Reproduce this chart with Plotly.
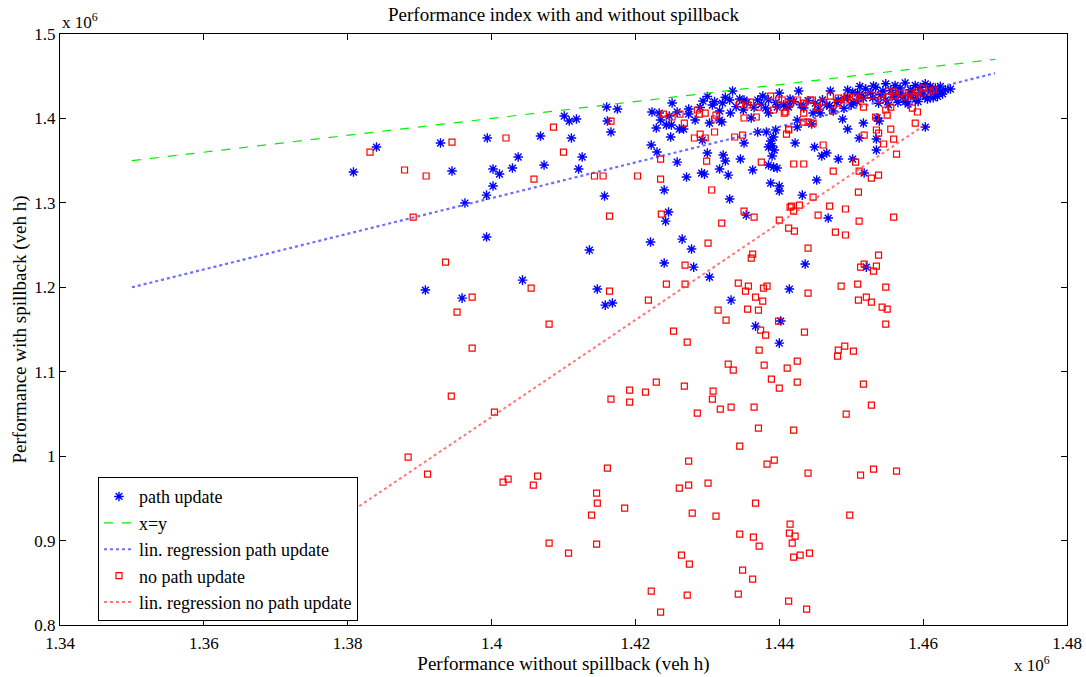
import plotly.graph_objects as go

# ---------------- data (values in units of 10^6 veh h) ----------------
path_x = [
    1.3808, 1.3840, 1.3929, 1.3994, 1.4068, 1.4101, 1.4108, 1.4118, 1.4111, 1.4037,
    1.4126, 1.3945, 1.4002, 1.4011, 1.4029, 1.4073, 1.4121, 1.4002, 1.3993, 1.3963,
    1.4157, 1.3993, 1.4136, 1.4043, 1.3908, 1.4147, 1.3959, 1.4158, 1.4168, 1.4160,
    1.4175, 1.4161, 1.4166, 1.4223, 1.4233, 1.4251, 1.4258, 1.4247, 1.4235, 1.4243,
    1.4250, 1.4229, 1.4261, 1.4267, 1.4274, 1.4294, 1.4307, 1.4317, 1.4321, 1.4331,
    1.4335, 1.4351, 1.4332, 1.4274, 1.4283, 1.4303, 1.4317, 1.4320, 1.4350, 1.4361,
    1.4377, 1.4370, 1.4381, 1.4385, 1.4400, 1.4397, 1.4406, 1.4411, 1.4249, 1.4293,
    1.4370, 1.4382, 1.4351, 1.4392, 1.4388, 1.4385, 1.4390, 1.4393, 1.4222, 1.4230,
    1.4258, 1.4300, 1.4322, 1.4325, 1.4346, 1.4390, 1.4385, 1.4392, 1.4397, 1.4271,
    1.4292, 1.4296, 1.4317, 1.4329, 1.4363, 1.4331, 1.4240, 1.4246, 1.4242, 1.4354,
    1.4221, 1.4265, 1.4278, 1.4240, 1.4281, 1.4303, 1.4333, 1.4367, 1.4400, 1.4402,
    1.4414, 1.4436, 1.4521, 1.4388, 1.4400, 1.4400, 1.4427, 1.4434, 1.4447, 1.4457,
    1.4425, 1.4425, 1.4445, 1.4488, 1.4495, 1.4517, 1.4536, 1.4539, 1.4511, 1.4535,
    1.4535, 1.4422, 1.4449, 1.4459, 1.4466, 1.4482, 1.4502, 1.4518, 1.4452, 1.4432,
    1.4468, 1.4603, 1.4638, 1.4395, 1.4413, 1.4495, 1.4471, 1.4509, 1.4531, 1.4482,
    1.4466, 1.4503, 1.4517,
    # dense cluster
    1.4534, 1.4541, 1.4548, 1.4548, 1.4555, 1.4561, 1.4561, 1.4568, 1.4568, 1.4575,
    1.4575, 1.4582, 1.4582, 1.4589, 1.4589, 1.4596, 1.4596, 1.4603, 1.4603, 1.4610,
    1.4610, 1.4617, 1.4617, 1.4624, 1.4624, 1.4631, 1.4538, 1.4552, 1.4565, 1.4579,
    1.4593, 1.4606, 1.4620, 1.4544, 1.4558, 1.4572, 1.4586, 1.4600, 1.4614, 1.4627,
    1.4530, 1.4527, 1.4520, 1.4515, 1.4508, 1.4512, 1.4502, 1.4495,
    # band
    1.4420, 1.4430, 1.4440, 1.4450, 1.4460, 1.4470, 1.4480, 1.4490, 1.4500, 1.4455,
    1.4475, 1.4490, 1.4415, 1.4395, 1.4385, 1.4375, 1.4365, 1.4355, 1.4345, 1.4340,
    1.4325, 1.4310, 1.4300, 1.4290,
]
path_y = [
    1.3365, 1.3661, 1.3709, 1.3768, 1.3791, 1.4028, 1.3969, 1.3993, 1.3768, 1.3543,
    1.3543, 1.3377, 1.3401, 1.3341, 1.3412, 1.3448, 1.3401, 1.3199, 1.3092, 1.2998,
    1.3081, 1.2595, 1.2441, 1.2085, 1.1967, 1.1979, 1.1872, 1.1789, 1.1813, 1.4135,
    1.4111, 1.3969, 1.3839, 1.4076, 1.4064, 1.4182, 1.4076, 1.4028, 1.3981, 1.3922,
    1.3922, 1.3886, 1.3874, 1.3874, 1.4111, 1.4206, 1.4159, 1.4088, 1.4182, 1.4218,
    1.4325, 1.4218, 1.4064, 1.4052, 1.3981, 1.3945, 1.3981, 1.3957, 1.4100, 1.4005,
    1.4265, 1.4218, 1.4123, 1.4064, 1.4301, 1.4135, 1.4159, 1.4147, 1.3780, 1.3744,
    1.3839, 1.3839, 1.3709, 1.3780, 1.3732, 1.3661, 1.3673, 1.3626, 1.3685, 1.3602,
    1.3483, 1.3590, 1.3566, 1.3495, 1.3519, 1.3555, 1.3448, 1.3424, 1.3412, 1.3306,
    1.3353, 1.3340, 1.3401, 1.3329, 1.3389, 1.3045, 1.3152, 1.2891, 1.2784, 1.2855,
    1.2536, 1.2571, 1.2453, 1.2287, 1.2239, 1.2121, 1.1848, 1.1540, 1.1339, 1.1600,
    1.1979, 1.2275, 1.2239, 1.3235, 1.3199, 1.3140, 1.4325, 1.4123, 1.4064, 1.4064,
    1.3981, 1.3898, 1.3934, 1.3993, 1.3874, 1.3945, 1.4005, 1.3969, 1.3768, 1.3756,
    1.3626, 1.3709, 1.3661, 1.3555, 1.3590, 1.3519, 1.3519, 1.3353, 1.3270, 1.3092,
    1.2820, 1.3898, 1.4348, 1.3863, 1.4135, 1.4337, 1.4325, 1.4301, 1.4384, 1.4218,
    1.4159, 1.4182, 1.4242,
    # dense cluster
    1.4370, 1.4280, 1.4410, 1.4220, 1.4330, 1.4390, 1.4250, 1.4300, 1.4360, 1.4420,
    1.4200, 1.4270, 1.4340, 1.4390, 1.4230, 1.4310, 1.4370, 1.4260, 1.4410, 1.4330,
    1.4380, 1.4290, 1.4360, 1.4320, 1.4380, 1.4340, 1.4180, 1.4160, 1.4190, 1.4170,
    1.4200, 1.4230, 1.4260, 1.4325, 1.4285, 1.4255, 1.4305, 1.4285, 1.4245, 1.4290,
    1.4245, 1.4305, 1.4350, 1.4270, 1.4200, 1.4380, 1.4310, 1.4250,
    # band
    1.4200, 1.4160, 1.4210, 1.4180, 1.4220, 1.4150, 1.4190, 1.4240, 1.4160, 1.4110,
    1.4090, 1.4120, 1.4230, 1.4190, 1.4220, 1.4170, 1.4130, 1.4190, 1.4230, 1.4140,
    1.4250, 1.4200, 1.4260, 1.4130,
]

nopath_x = [
    1.3831, 1.3879, 1.3909, 1.3945, 1.4020, 1.4086, 1.4100, 1.4059, 1.4143, 1.4155,
    1.3891, 1.4164, 1.3936, 1.4055, 1.4166, 1.3973, 1.3952, 1.4164, 1.4080, 1.3973,
    1.3944, 1.4004, 1.3884, 1.3911, 1.4016, 1.4023, 1.4058, 1.4064, 1.4161, 1.4146,
    1.4147, 1.4185, 1.4139, 1.4080, 1.4107, 1.4146, 1.4243, 1.4269, 1.4218, 1.4253,
    1.4272, 1.4229, 1.4192, 1.4214, 1.4166, 1.4192, 1.4268, 1.4286, 1.4308, 1.4307,
    1.4318, 1.4333, 1.4365, 1.4371, 1.4345, 1.4274, 1.4383, 1.4393, 1.4261, 1.4274,
    1.4301, 1.4279, 1.4312, 1.4367, 1.4345, 1.4364, 1.4372, 1.4264, 1.4275, 1.4349,
    1.4363, 1.4222, 1.4272, 1.4343, 1.4235, 1.4315, 1.4326, 1.4329, 1.4336, 1.4343,
    1.4353, 1.4357, 1.4367, 1.4377, 1.4378, 1.4383, 1.4356, 1.4371, 1.4374, 1.4381,
    1.4372, 1.4379, 1.4389, 1.4400, 1.4399, 1.4538, 1.4518, 1.4513, 1.4535, 1.4531,
    1.4440, 1.4486, 1.4509, 1.4548, 1.4510, 1.4521, 1.4528, 1.4543, 1.4550, 1.4548,
    1.4435, 1.4491, 1.4482, 1.4503, 1.4481, 1.4425, 1.4411, 1.4425, 1.4517, 1.4528,
    1.4493, 1.4420, 1.4440, 1.4513, 1.4531, 1.4563, 1.4498, 1.4415, 1.4414, 1.4422,
    1.4418, 1.4420, 1.4429, 1.4442, 1.4413, 1.4438, 1.4239, 1.4251, 1.4262, 1.4268,
    1.4286, 1.4289, 1.4297, 1.4310, 1.4312, 1.4345, 1.4356, 1.4360, 1.4351, 1.4368,
    1.4371, 1.4388, 1.4392, 1.4399, 1.4404, 1.4407, 1.4282, 1.4290, 1.4297, 1.4310,
    1.4338, 1.4349, 1.4410, 1.4413, 1.4299, 1.4375, 1.4235, 1.4235, 1.4306, 1.4236,
    1.4351, 1.4365, 1.4320, 1.4203, 1.4400, 1.4413, 1.4415, 1.4363, 1.4361, 1.4301,
    1.4269, 1.4614, 1.4600, 1.4592, 1.4582, 1.4571, 1.4559, 1.4552, 1.4550, 1.4561,
    1.4575, 1.4587, 1.4599, 1.4610, 1.4538, 1.4527, 1.4516, 1.4506, 1.4495, 1.4482,
    1.4471, 1.4481, 1.4492, 1.4461, 1.4453, 1.4443, 1.4434, 1.4425, 1.4415, 1.4409,
    1.4434, 1.4446, 1.4474, 1.4511, 1.4517, 1.4541, 1.4548, 1.4555, 1.4585, 1.4592,
    1.4589, 1.4534, 1.4550, 1.4535, 1.4538, 1.4518, 1.4555, 1.4559, 1.4545, 1.4563,
    1.4461, 1.4434, 1.4440, 1.4447, 1.4413, 1.4420, 1.4434, 1.4475, 1.4511, 1.4506,
    1.4538, 1.4528, 1.4510, 1.4447, 1.4428, 1.4417, 1.4420, 1.4470, 1.4492, 1.4454,
    1.4511, 1.4559, 1.4421, 1.4478, 1.4492, 1.4440,
]
nopath_y = [
    1.3602, 1.3389, 1.3318, 1.3720, 1.3768, 1.3898, 1.3602, 1.3282, 1.3318, 1.3318,
    1.2832, 1.2844, 1.2299, 1.1991, 1.3969, 1.1884, 1.1706, 1.1955, 1.1564, 1.1280,
    1.0711, 1.0522, 0.9988, 0.9787, 0.9692, 0.9727, 0.9657, 0.9763, 0.9858, 0.9562,
    0.9443, 0.9384, 0.9301, 0.8970, 0.8851, 0.8958, 1.2038, 1.2038, 1.1848, 1.1481,
    1.1351, 1.0877, 1.0782, 1.0758, 1.0676, 1.0640, 1.0830, 1.0510, 1.0770, 1.0676,
    1.0557, 1.0581, 1.0581, 1.0332, 1.0119, 0.9941, 0.9905, 0.9953, 0.9621, 0.9657,
    0.9680, 0.9325, 0.9289, 0.9443, 0.9076, 0.9041, 0.8934, 0.8827, 0.8720, 0.8649,
    0.8543, 0.8401, 0.8353, 0.8365, 0.8152, 1.1730, 1.1611, 1.1090, 1.1019, 1.2050,
    1.1955, 1.2014, 1.1884, 1.1837, 1.1991, 1.2014, 1.1742, 1.1730, 1.1493, 1.1434,
    1.1256, 1.1078, 1.0912, 1.0806, 1.1600, 1.2382, 1.2275, 1.2239, 1.2251, 1.2192,
    1.1931, 1.2014, 1.2038, 1.2002, 1.1848, 1.1884, 1.1825, 1.1765, 1.1742, 1.1564,
    1.1469, 1.1303, 1.1256, 1.1244, 1.1185, 1.1126, 1.1043, 1.0877, 1.0853, 1.0604,
    1.0498, 1.0308, 0.9799, 0.9775, 0.9846, 0.9822, 0.9301, 0.9195, 0.9088, 0.9052,
    0.8970, 0.8803, 0.8827, 0.8851, 0.8282, 0.8187, 1.4052, 1.4017, 1.4052, 1.3945,
    1.4100, 1.4052, 1.4064, 1.3993, 1.4040, 1.4171, 1.4159, 1.4194, 1.4005, 1.4017,
    1.4135, 1.4265, 1.4100, 1.4218, 1.4218, 1.4064, 1.3768, 1.3815, 1.3768, 1.3839,
    1.3780, 1.3803, 1.3815, 1.3863, 1.3495, 1.3483, 1.3519, 1.3282, 1.3152, 1.2867,
    1.2903, 1.2832, 1.2761, 1.3318, 1.2796, 1.2701, 1.2950, 1.2393, 1.2346, 1.2524,
    1.2263, 1.4337, 1.4360, 1.4313, 1.4301, 1.4301, 1.4313, 1.4325, 1.4254, 1.4265,
    1.4254, 1.4265, 1.4301, 1.4313, 1.4265, 1.4277, 1.4265, 1.4254, 1.4254, 1.4242,
    1.4265, 1.4182, 1.4218, 1.4194, 1.4135, 1.4218, 1.4182, 1.4218, 1.4182, 1.4076,
    1.4064, 1.4218, 1.4088, 1.4230, 1.4135, 1.4218, 1.4100, 1.4135, 1.4123, 1.4076,
    1.3945, 1.4017, 1.4040, 1.3863, 1.3827, 1.3803, 1.3874, 1.3756, 1.3697, 1.3578,
    1.3685, 1.3957, 1.3957, 1.3945, 1.3874, 1.3460, 1.3460, 1.3377, 1.3377, 1.3483,
    1.3329, 1.3294, 1.3128, 1.3069, 1.2974, 1.2962, 1.2903, 1.2962, 1.2927, 1.2855,
    1.2784, 1.2832, 1.2666, 1.2654, 1.2619, 1.2465,
]

# reference lines
xy_x = [1.35, 1.47]
xy_y = [1.35, 1.47]
reg_path_x = [1.35, 1.47]
reg_path_y = [1.200, 1.4535]
reg_nopath_x = [1.365, 1.460]
reg_nopath_y = [0.8454, 1.391]

x_ticks = [1.34, 1.36, 1.38, 1.40, 1.42, 1.44, 1.46, 1.48]
x_tick_text = ["1.34", "1.36", "1.38", "1.4", "1.42", "1.44", "1.46", "1.48"]
y_ticks = [0.8, 0.9, 1.0, 1.1, 1.2, 1.3, 1.4, 1.5]
y_tick_text = ["0.8", "0.9", "1", "1.1", "1.2", "1.3", "1.4", "1.5"]

FONT = "Liberation Serif, Times New Roman, serif"

fig = go.Figure()
fig.add_trace(go.Scatter(
    x=path_x, y=path_y, mode="markers", name="path update",
    marker=dict(symbol="asterisk-open", size=8, color="#0000ff",
                line=dict(color="#0000ff", width=1.4))))
fig.add_trace(go.Scatter(
    x=xy_x, y=xy_y, mode="lines", name="x=y",
    line=dict(color="#00ee00", width=1.2, dash="dash")))
fig.add_trace(go.Scatter(
    x=reg_path_x, y=reg_path_y, mode="lines", name="lin. regression path update",
    line=dict(color="rgba(60,60,255,0.75)", width=2.2, dash="dot")))
fig.add_trace(go.Scatter(
    x=nopath_x, y=nopath_y, mode="markers", name="no path update",
    marker=dict(symbol="square-open", size=6, color="#ff0000",
                line=dict(color="#ff0000", width=1.2))))
fig.add_trace(go.Scatter(
    x=reg_nopath_x, y=reg_nopath_y, mode="lines", name="lin. regression no path update",
    line=dict(color="rgba(255,60,60,0.7)", width=2.0, dash="dot")))

axis_common = dict(
    showgrid=False, zeroline=False, showline=True, linecolor="black", linewidth=1,
    mirror="ticks", ticks="inside", ticklen=6, tickcolor="black", automargin=False,
    tickfont=dict(family=FONT, size=17, color="black"),
)

fig.update_layout(
    width=1086, height=677,
    margin=dict(l=60, r=19, t=34, b=52),
    paper_bgcolor="white", plot_bgcolor="white",
    font=dict(family=FONT, color="black"),
    showlegend=True,
    legend=dict(
        x=0.0377, y=0.25, xanchor="left", yanchor="top",
        bgcolor="white", bordercolor="black", borderwidth=1,
        font=dict(family=FONT, size=18, color="black"),
        tracegroupgap=0,
    ),
    xaxis=dict(range=[1.34, 1.48], tickvals=x_ticks, ticktext=x_tick_text,
               ticklabelstandoff=3,
               title=dict(text="Performance without spillback (veh h)",
                          font=dict(family=FONT, size=19), standoff=0),
               **axis_common),
    yaxis=dict(range=[0.8, 1.5], tickvals=y_ticks, ticktext=y_tick_text,
               title=dict(text="Performance with spillback (veh h)",
                          font=dict(family=FONT, size=19), standoff=2),
               **axis_common),
    annotations=[
        dict(text="Performance index with and without spillback", xref="paper", yref="paper",
             x=0.5, y=1.0, yshift=20, xanchor="center", yanchor="middle", showarrow=False,
             font=dict(family=FONT, size=19)),
        dict(text="x 10<sup>6</sup>", xref="paper", yref="paper", x=0.0, y=1.0,
             xanchor="left", yanchor="bottom", showarrow=False, yshift=0,
             font=dict(family=FONT, size=17)),
        dict(text="x 10<sup>6</sup>", xref="paper", yref="paper", x=0.985, y=0.0,
             xanchor="right", yanchor="top", showarrow=False, yshift=-26,
             font=dict(family=FONT, size=17)),
    ],
)

fig.write_html("out.html")
